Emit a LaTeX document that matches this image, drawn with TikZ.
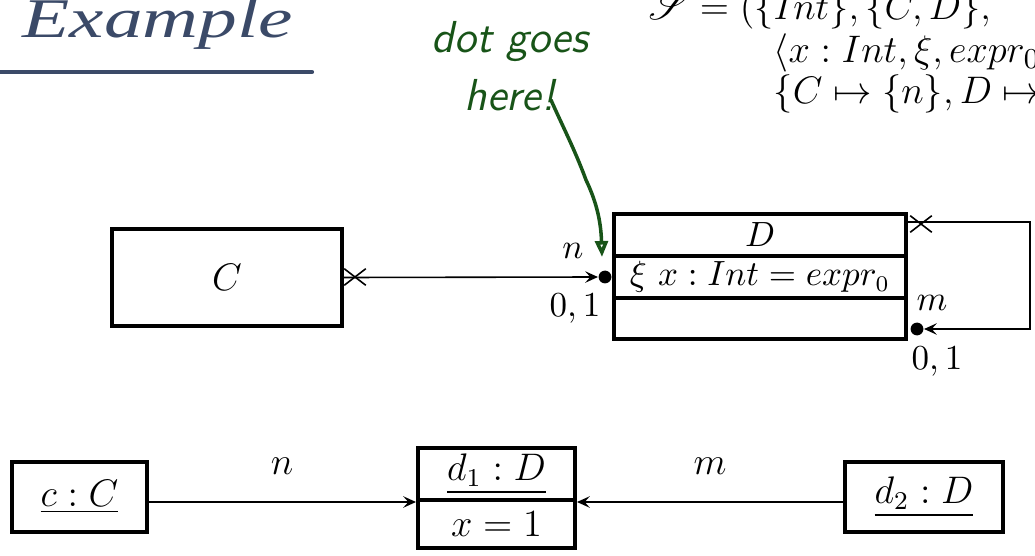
\documentclass[tikz,border=0pt]{standalone}
\usepackage{amsmath,amssymb}
\usepackage{mathrsfs}
\usepackage{graphicx}
\usepackage{fontspec}
\newfontfamily\titlefont{Liberation Serif}
\usetikzlibrary{arrows.meta,shapes.misc,calc}
\definecolor{titleblue}{RGB}{59,74,104}
\definecolor{handgreen}{RGB}{24,84,24}
\newcommand\pxu{0.3125pt}
\begin{document}
\begin{tikzpicture}[x=0.3125pt,y=-0.3125pt,
  umlbox/.style={draw, line width=1.25pt, inner sep=0pt, font=\fontsize{10.5}{12}\selectfont},
  assoc/.style={line width=0.5pt},
  arrowtip/.style={-{Stealth[length=4pt,width=3.6pt,inset=1.6pt]}},
  dotnode/.style={circle, fill, inner sep=0pt, minimum size=4pt},
  xmark/.style={cross out, draw, line width=0.5pt, minimum width=20*\pxu, minimum height=15*\pxu, inner sep=0pt},
  lbl/.style={inner sep=0pt, font=\fontsize{10.5}{12}\selectfont},
  biglbl/.style={inner sep=0pt, font=\fontsize{12}{14}\selectfont},
  sigline/.style={anchor=base west, inner sep=0pt, font=\fontsize{13}{15}\selectfont},
  handline/.style={handgreen, line width=1.1pt, line cap=round, line join=round}
]
\useasboundingbox (0,0) rectangle (1035,556);
\clip (0,0) rectangle (1035,556);

% title
\node[anchor=base west, inner sep=0pt, text=titleblue, font=\titlefont\itshape\fontsize{17.5}{19}\selectfont] (title) at (22,38) {\scalebox{1.38}[1]{Example}};
\draw[titleblue, line width=1.3pt, line cap=round] (-10,72) -- (312,72);

% signature
\node[sigline] (sig1) at (648,20) {$\mathscr{S} = (\{Int\}, \{C, D\},$};
\node[sigline] (sig2) at (773,63) {$\langle x : Int, \xi, expr_0,$};
\node[sigline] (sig3) at (773,104) {$\{C \mapsto \{n\}, D \mapsto$};

% class diagram
\node[umlbox, minimum width=230*\pxu, minimum height=97*\pxu, font=\fontsize{12}{14}\selectfont] (C) at (227,277.5) {$C$};
\node[umlbox, minimum width=292*\pxu, minimum height=42*\pxu] (Dname) at (760,235) {$D$};
\node[umlbox, minimum width=292*\pxu, minimum height=42*\pxu] (Dattr) at (760,277) {$\xi\ x : Int = expr_{0}$};
\node[umlbox, minimum width=292*\pxu, minimum height=41*\pxu] (Dops) at (760,318.5) {};

\node[dotnode] (ndot) at (605,277) {};
\draw[assoc, arrowtip] (C.east) -- (ndot.west);
\node[xmark] (cx) at (355,277) {};
\node[lbl] (nlab) at (573,251) {$n$};
\node[lbl] (nmul) at (575,309) {$0,1$};

\coordinate (mstart) at ($(Dname.north east)+(0,10)$);
\node[dotnode] (mdot) at (917,329) {};
\draw[assoc, arrowtip] (mstart) -- ++(122,0) |- (mdot.east);
\node[xmark] (dx) at (921,224) {};
\node[lbl] (mlab) at (932,303) {$m$};
\node[lbl] (mmul) at (937,362) {$0,1$};

% object diagram
\node[umlbox, minimum width=135*\pxu, minimum height=70*\pxu, font=\fontsize{12}{14}\selectfont] (cC) at (79.5,497) {\underline{$c : C$}};
\node[umlbox, minimum width=157*\pxu, minimum height=52*\pxu, font=\fontsize{12}{14}\selectfont] (d1a) at (496.5,474) {\underline{$d_1 : D$}};
\node[umlbox, minimum width=157*\pxu, minimum height=48*\pxu, font=\fontsize{12}{14}\selectfont] (d1b) at (496.5,524) {$x = 1$};
\node[umlbox, minimum width=158*\pxu, minimum height=70*\pxu, font=\fontsize{12}{14}\selectfont] (d2) at (924,497) {\underline{$d_2 : D$}};
\draw[assoc, arrowtip] (cC.east |- d1a.south) -- (d1a.south west);
\draw[assoc, arrowtip] (d2.west |- d1a.south) -- (d1a.south east);
\node[biglbl] (olab1) at (282,466) {$n$};
\node[biglbl] (olab2) at (710,466) {$m$};

% handwritten note
\node[handgreen, font=\sffamily\itshape\fontsize{14}{18}\selectfont, align=center, inner sep=0pt] (note) at (510,66) {dot goes\\here!};
\coordinate (nstart) at (551,100);
\coordinate (nmid) at (586,180);
\coordinate (nend) at (602,257);
\draw[handline, -{Triangle[open, length=5pt, width=4pt]}] (nstart) .. controls (562,125) and (575,150) .. (nmid) .. controls (598,205) and (601,225) .. (nend);
\end{tikzpicture}
\end{document}
